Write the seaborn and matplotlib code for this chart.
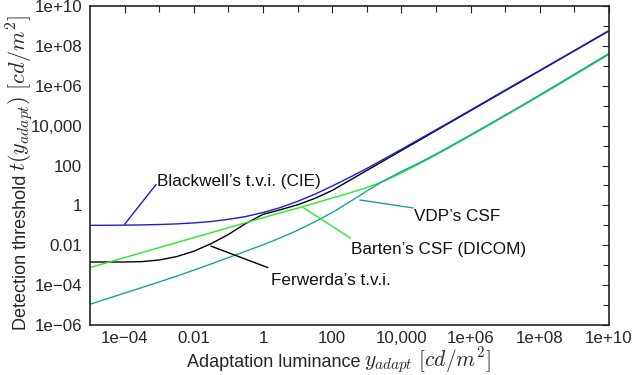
import matplotlib
matplotlib.use('Agg')
import matplotlib.pyplot as plt
from matplotlib.ticker import FixedLocator, NullFormatter
import seaborn as sns
import pandas as pd

# log10 of adaptation luminance [cd/m^2]
log_lum = [-5.0, -4.5, -4.0, -3.5, -3.0, -2.5, -2.0, -1.5, -1.0, -0.5,
           0.0, 0.5, 1.0, 1.5, 2.0, 2.5, 3.0, 3.5, 4.0, 4.5,
           5.0, 5.5, 6.0, 6.5, 7.0, 7.5, 8.0, 8.5, 9.0, 9.5, 10.0]

# log10 of detection threshold
blackwell = [-1.00, -1.00, -0.99, -0.98, -0.96, -0.93, -0.88, -0.81, -0.70, -0.56,
             -0.36, -0.11, 0.20, 0.56, 0.97, 1.40, 1.85, 2.33, 2.81, 3.30,
             3.79, 4.28, 4.78, 5.28, 5.78, 6.28, 6.77, 7.27, 7.77, 8.27, 8.77]
ferwerda = [-2.84, -2.84, -2.84, -2.82, -2.74, -2.57, -2.30, -1.92, -1.46, -0.91,
            -0.45, -0.22, 0.03, 0.35, 0.75, 1.25, 1.75, 2.25, 2.75, 3.25,
            3.75, 4.25, 4.75, 5.25, 5.75, 6.25, 6.75, 7.25, 7.75, 8.25, 8.75]
barten = [-3.12, -2.87, -2.62, -2.37, -2.12, -1.87, -1.62, -1.37, -1.12, -0.87,
          -0.62, -0.37, -0.14, 0.11, 0.37, 0.62, 0.89, 1.22, 1.62, 2.07,
          2.53, 3.01, 3.50, 3.99, 4.49, 4.99, 5.50, 6.01, 6.53, 7.05, 7.57]
vdp = [-4.96, -4.68, -4.40, -4.12, -3.84, -3.55, -3.25, -2.94, -2.62, -2.30,
       -1.98, -1.63, -1.25, -0.82, -0.36, 0.17, 0.72, 1.24, 1.70, 2.12,
       2.57, 3.05, 3.54, 4.03, 4.53, 5.03, 5.54, 6.06, 6.58, 7.10, 7.62]

# drawing order: Blackwell last so it sits on top of Ferwerda
models = ['Ferwerda', 'Barten', 'VDP', 'Blackwell']
series = {'Blackwell': blackwell, 'Ferwerda': ferwerda, 'Barten': barten, 'VDP': vdp}
colors = {'Blackwell': '#1c1ce0', 'Ferwerda': '#000000',
          'Barten': '#22ee22', 'VDP': '#1a9ea8'}

x_ticks = [1e-4, 1e-2, 1, 1e2, 1e4, 1e6, 1e8, 1e10]
x_tick_labels = ['1e\u221204', '0.01', '1', '100', '10,000', '1e+06', '1e+08', '1e+10']
x_minor = [1e-3, 1e-1, 1e1, 1e3, 1e5, 1e7, 1e9]
y_ticks = [1e-6, 1e-4, 1e-2, 1, 1e2, 1e4, 1e6, 1e8, 1e10]
y_tick_labels = ['1e\u221206', '1e\u221204', '0.01', '1', '100', '10,000',
                 '1e+06', '1e+08', '1e+10']
y_minor = [1e-5, 1e-3, 1e-1, 1e1, 1e3, 1e5, 1e7, 1e9]

rows = []
for name in models:
    for lx, ly in zip(log_lum, series[name]):
        rows.append({'model': name, 'lum': 10 ** lx, 'thr': 10 ** ly})
df = pd.DataFrame(rows)

sns.set_style('white')
plt.rcParams['font.family'] = ['Liberation Sans', 'DejaVu Sans']
plt.rcParams['mathtext.fontset'] = 'cm'
plt.rcParams['font.size'] = 12

W, H = 636, 375
fig = plt.figure(figsize=(W / 100, H / 100), dpi=100)
ax = fig.add_axes([90 / W, 50 / H, 519 / W, 319 / H])

sns.lineplot(data=df, x='lum', y='thr', hue='model', hue_order=models,
             palette=colors, estimator=None, sort=False, linewidth=1.0,
             legend=False, ax=ax)

ax.set_xscale('log')
ax.set_yscale('log')
ax.set_xlim(1e-5, 1e10)
ax.set_ylim(1e-6, 1e10)

ax.xaxis.set_major_locator(FixedLocator(x_ticks))
ax.xaxis.set_minor_locator(FixedLocator(x_minor))
ax.xaxis.set_minor_formatter(NullFormatter())
ax.set_xticklabels(x_tick_labels)
ax.yaxis.set_major_locator(FixedLocator(y_ticks))
ax.yaxis.set_minor_locator(FixedLocator(y_minor))
ax.yaxis.set_minor_formatter(NullFormatter())
ax.set_yticklabels(y_tick_labels)

ax.tick_params(which='both', direction='in', top=True, right=True,
               color='#222222', labelsize=12.2)
ax.tick_params(which='major', length=5, width=0.8)
ax.tick_params(which='minor', length=4, width=0.8)
ax.tick_params(axis='x', which='major', pad=4.5)
ax.tick_params(axis='y', which='major', pad=5.5)
for sp in ax.spines.values():
    sp.set_color('#222222')
    sp.set_linewidth(1.2)
ax.set_xlabel('')
ax.set_ylabel('')

# axis titles: sans part + larger TeX-style math part, like the original
fig.canvas.draw()
rend = fig.canvas.get_renderer()

xl = fig.text(187 / W, 1 - 367 / H, 'Adaptation luminance', fontsize=13,
              ha='left', va='baseline')
bb = xl.get_window_extent(rend)
fig.text((bb.x1 + 4) / W, 1 - 367 / H, r'$y_{adapt}$ $[cd/m^2]$', fontsize=15.5,
         ha='left', va='baseline')

yl = fig.text(26 / W, 1 - 330 / H, 'Detection threshold', fontsize=13,
              rotation=90, rotation_mode='anchor', ha='left', va='baseline')
bb = yl.get_window_extent(rend)
fig.text(26 / W, (bb.y1 + 4) / H, r'$t(y_{adapt})$ $[cd/m^2]$', fontsize=16,
         rotation=90, rotation_mode='anchor', ha='left', va='baseline')

# labels with leader lines
notes = [
    ('Blackwell\u2019s t.v.i. (CIE)', (10 ** -4.0, 10 ** -0.95), (10 ** -3.09, 10 ** 1.05),
     (10 ** -3.06, 10 ** 1.2), colors['Blackwell']),
    ('Ferwerda\u2019s t.v.i.', (10 ** -1.51, 10 ** -2.04), (10 ** 0.14, 10 ** -3.12),
     (10 ** 0.22, 10 ** -3.79), colors['Ferwerda']),
    ('Barten\u2019s CSF (DICOM)', (10 ** 1.165, 10 ** -0.115), (10 ** 2.53, 10 ** -1.64),
     (10 ** 2.54, 10 ** -2.21), colors['Barten']),
    ('VDP\u2019s CSF', (10 ** 2.80, 10 ** 0.27), (10 ** 4.34, 10 ** -0.13),
     (10 ** 4.35, 10 ** -0.57), colors['VDP']),
]
for text, p0, p1, ptxt, col in notes:
    ax.annotate('', xy=p0, xytext=p1,
                arrowprops=dict(arrowstyle='-', color=col, lw=1.0,
                                shrinkA=0, shrinkB=0))
    ax.text(ptxt[0], ptxt[1], text, ha='left', va='center', fontsize=12.3,
            color='#111111')

fig.savefig('out.png', dpi=100)
